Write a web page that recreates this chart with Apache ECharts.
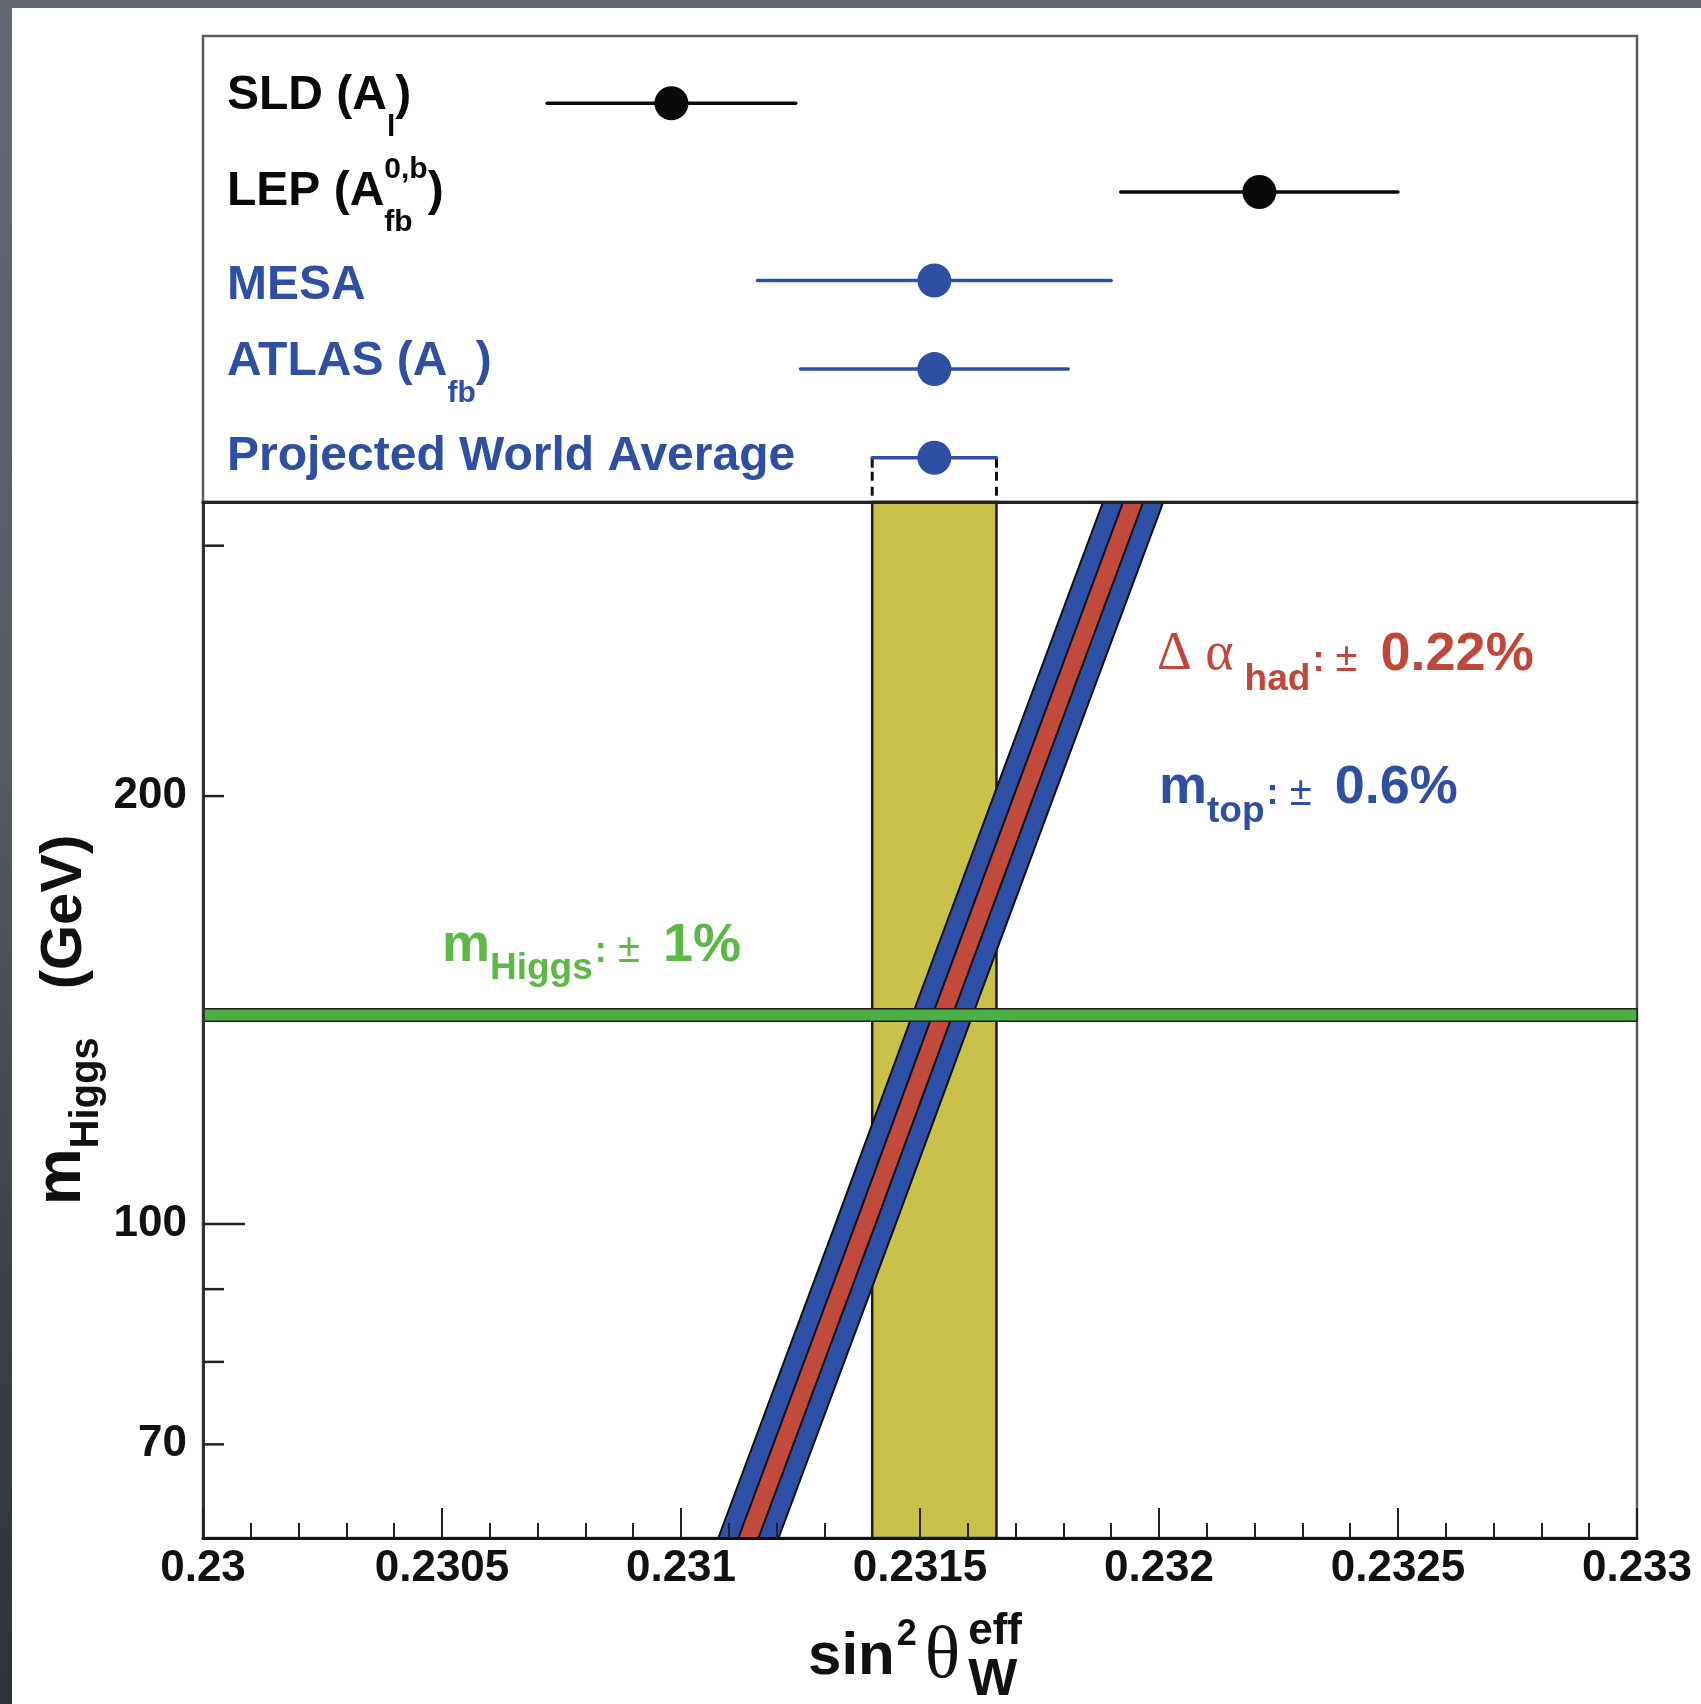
<!DOCTYPE html>
<html>
<head>
<meta charset="utf-8">
<script src="https://cdn.jsdelivr.net/npm/echarts@6/dist/echarts.min.js"></script>
<style>
  html, body { margin: 0; padding: 0; }
  body {
    width: 1701px; height: 1704px; position: relative; overflow: hidden;
    background: linear-gradient(180deg, #636772 0%, #555962 45%, #3a3d45 80%, #2e3138 100%);
  }
  #sheet { position: absolute; left: 12px; top: 8px; right: 0; bottom: 0; background: #ffffff; }
  #chart { position: absolute; left: 0; top: 0; width: 1701px; height: 1704px; }
</style>
</head>
<body>
<div id="sheet"></div>
<div id="chart"></div>
<script>
// ---- measurements of sin^2(theta_eff) (upper panel, one row each) ----
const expLabels = [
  '{m|SLD (A}{sub|l}{m|)}',
  '{m|LEP (A}{subz|fb}{sup|0,b}{m|)}',
  '{m|MESA}',
  '{m|ATLAS (A}{sub|fb}{m|)}',
  '{m|Projected World Average}'
];
const expCenter = [0.23098, 0.23221, 0.23153, 0.23153, 0.23153];
const expLow    = [0.23072, 0.23192, 0.23116, 0.23125, 0.23140];
const expHigh   = [0.23124, 0.23250, 0.23190, 0.23181, 0.23166];

// projected world-average band (lower panel)
const worldAvgBand = [0.23140, 0.23166];

// SM prediction of sin^2(theta_eff) versus Higgs mass (band centre)
const bandMass   = [60.15, 100, 140, 200, 322];
const bandCenter = [0.231141, 0.231386, 0.231546, 0.231717, 0.231946];
const mtopHalfWidth  = 0.000063;   // outer (blue) band, m_top uncertainty
const alphaHalfWidth = 0.000021;   // inner (red) band, Delta alpha_had uncertainty

// Higgs mass line: m_H with +-1 %
const higgsMass = 140.3;
const higgsRelErr = 0.01;

// axis ticks
const xTickLabels = ['0.23', '0.2305', '0.231', '0.2315', '0.232', '0.2325', '0.233'];
const yTickValues = [70, 80, 90, 100, 200, 300];
const yTickLabels = ['70', '', '', '100', '200', ''];
const yDecadeTicks = [100];

// ---- styling ----
const SANS = '"Liberation Sans", Arial, Helvetica, sans-serif';
const SERIF = '"Liberation Serif", "DejaVu Serif", serif';
const INK = '#0a0a0a';
const BLUE = '#2f4fa3';
const RED = '#c0483a';
const GREEN = '#5cb947';
const rowColors = [INK, INK, BLUE, BLUE, BLUE];
const rowLabelNudge = [-8, 0, 5, -7, -1];   // vertical fine-tuning of the row names (px)

const X_MIN = 0.23, X_MAX = 0.233;
const M_MIN = 60.15, M_MAX = 322;
const ROW_MIN = -0.76, ROW_MAX = 4.5;

function rowRich(color) {
  const base = { fontFamily: SANS, fontWeight: 'bold', color: color };
  return {
    m:    Object.assign({}, base, { fontSize: 48 }),
    sub:  Object.assign({}, base, { fontSize: 30, padding: [64, 0, 0, 0] }),
    subz: Object.assign({}, base, { fontSize: 30, width: 0, padding: [62, 0, 0, 0] }),
    sup:  Object.assign({}, base, { fontSize: 30, padding: [0, 0, 44, 0] })
  };
}

function noteRich(color, subPad) {
  return {
    g:   { fontFamily: SERIF, fontSize: 54, color: color, padding: [0, 11, 0, 0] },
    m:   { fontFamily: SANS, fontWeight: 'bold', fontSize: 54, color: color },
    sub: { fontFamily: SANS, fontWeight: 'bold', fontSize: 37, color: color, padding: [subPad, 0, 0, 0] },
    c:   { fontFamily: SANS, fontWeight: 'bold', fontSize: 36, color: color, padding: [12, 0, 0, 2] },
    pm:  { fontFamily: SANS, fontSize: 40, color: color, padding: [10, 12, 0, 0] },
    v:   { fontFamily: SANS, fontWeight: 'bold', fontSize: 54, color: color }
  };
}

function polygonItem(points, fill, stroke, width) {
  return { type: 'polygon', shape: { points: points }, style: { fill: fill, stroke: stroke, lineWidth: width } };
}

const chart = echarts.init(document.getElementById('chart'), null, { renderer: 'canvas', width: 1701, height: 1704 });

const option = {
  animation: false,
  grid: [
    { left: 203, right: 64, top: 36, height: 466, outerBoundsMode: 'none', containLabel: false,
      show: true, backgroundColor: 'transparent', borderColor: '#5c5c5c', borderWidth: 2.5 },
    { left: 203, right: 64, top: 502, height: 1036, outerBoundsMode: 'none', containLabel: false,
      show: true, backgroundColor: 'transparent', borderColor: '#5c5c5c', borderWidth: 2.5 }
  ],
  xAxis: [
    { gridIndex: 0, type: 'value', min: X_MIN, max: X_MAX, show: false },
    {
      gridIndex: 1, type: 'value', min: X_MIN, max: X_MAX, interval: 0.0005, z: 10,
      axisLine: { show: true, onZero: false, lineStyle: { color: '#111', width: 3 } },
      axisTick: { show: true, inside: true, length: 30, lineStyle: { color: '#222', width: 2 } },
      minorTick: { show: true, splitNumber: 5, length: 15, lineStyle: { color: '#222', width: 2 } },
      splitLine: { show: false }, minorSplitLine: { show: false },
      axisLabel: {
        show: true, margin: 9, fontSize: 44, fontWeight: 'bold', fontFamily: SANS, color: '#111',
        showMinLabel: true, showMaxLabel: true,
        formatter: function (v, i) { return xTickLabels[i]; }
      },
      name: '{s|sin}{sup|2}{th|θ}{w|W}{eff|eff}',
      nameLocation: 'middle', nameGap: 69, nameMoveOverlap: false,
      nameTextStyle: {
        rich: {
          s:   { align: 'left', fontFamily: SANS, fontWeight: 'bold', fontSize: 60, color: '#111' },
          sup: { align: 'left', fontFamily: SANS, fontWeight: 'bold', fontSize: 36, color: '#111', padding: [0, 8, 43, 2] },
          th:  { align: 'left', fontFamily: SERIF, fontSize: 74, color: '#111', padding: [2, 8, 0, 0] },
          w:   { align: 'left', fontFamily: SANS, fontWeight: 'bold', fontSize: 52, color: '#111', width: 0, padding: [48, 0, 0, 0] },
          eff: { align: 'left', fontFamily: SANS, fontWeight: 'bold', fontSize: 44, color: '#111', padding: [0, 10, 51, 0] }
        }
      }
    },
    {
      gridIndex: 1, type: 'value', min: X_MIN, max: X_MAX, position: 'top', z: 10,
      axisLine: { show: true, onZero: false, lineStyle: { color: '#222', width: 3 } },
      axisTick: { show: false }, axisLabel: { show: false }, splitLine: { show: false }
    }
  ],
  yAxis: [
    { gridIndex: 0, type: 'value', inverse: true, min: ROW_MIN, max: ROW_MAX, show: false },
    {
      gridIndex: 1, type: 'log', logBase: 10, min: M_MIN, max: M_MAX, z: 10,
      axisLine: { show: true, onZero: false, lineStyle: { color: '#333', width: 3 } },
      axisTick: { show: false }, axisLabel: { show: false },
      splitLine: { show: false }, minorTick: { show: false },
      name: '{m|m}{sub|Higgs}{g|(GeV)}',
      nameLocation: 'middle', nameRotate: 90, nameGap: 96, nameMoveOverlap: false,
      nameTextStyle: {
        rich: {
          m:   { fontFamily: SANS, fontWeight: 'bold', fontSize: 64, color: '#111' },
          sub: { fontFamily: SANS, fontWeight: 'bold', fontSize: 40, color: '#111', padding: [49, 0, 0, 0] },
          g:   { fontFamily: SANS, fontWeight: 'bold', fontSize: 58, color: '#111', padding: [4, 0, 0, 48] }
        }
      }
    }
  ],
  series: [
    // ---------- upper panel ----------
    {
      // dashed drop lines from the world-average error bar to the band below
      type: 'custom', xAxisIndex: 0, yAxisIndex: 0, z: 2, silent: true,
      data: [[expLow[4], 4], [expHigh[4], 4]],
      encode: { x: 0, y: 1 },
      renderItem: function (params, api) {
        const top = api.coord([api.value(0), api.value(1)]);
        const bottom = api.coord([api.value(0), ROW_MAX]);
        return {
          type: 'group', children: [
            { type: 'line', shape: { x1: top[0], y1: top[1], x2: top[0], y2: top[1] + 10 },
              style: { stroke: '#111', lineWidth: 3 } },
            { type: 'line', shape: { x1: top[0], y1: top[1] + 14, x2: bottom[0], y2: bottom[1] },
              style: { stroke: '#111', lineWidth: 3, lineDash: [9, 6] } }
          ]
        };
      }
    },
    {
      // horizontal error bars
      type: 'custom', xAxisIndex: 0, yAxisIndex: 0, z: 3, silent: true,
      data: expCenter.map(function (c, i) { return [expLow[i], expHigh[i], i]; }),
      encode: { x: [0, 1], y: 2 },
      renderItem: function (params, api) {
        const row = api.value(2);
        const a = api.coord([api.value(0), row]);
        const b = api.coord([api.value(1), row]);
        return { type: 'line', shape: { x1: a[0], y1: a[1], x2: b[0], y2: b[1] },
                 style: { stroke: rowColors[row], lineWidth: 3.5, lineCap: 'round' } };
      }
    },
    {
      // central values
      type: 'scatter', xAxisIndex: 0, yAxisIndex: 0, z: 4, silent: true,
      symbol: 'circle', symbolSize: 34, itemStyle: { opacity: 1 },
      data: expCenter.map(function (c, i) { return { value: [c, i], itemStyle: { color: rowColors[i], opacity: 1 } }; })
    },
    {
      // measurement names
      type: 'scatter', xAxisIndex: 0, yAxisIndex: 0, z: 5, silent: true, symbolSize: 0,
      itemStyle: { opacity: 1 },
      data: expLabels.map(function (t, i) {
        return { value: [X_MIN, i],
                 label: { formatter: t, rich: rowRich(rowColors[i]), offset: [0, rowLabelNudge[i]] } };
      }),
      label: { show: true, position: 'right', distance: 24, opacity: 1 }
    },

    // ---------- lower panel ----------
    {
      // world-average band
      type: 'custom', xAxisIndex: 1, yAxisIndex: 1, z: 2, silent: true,
      data: [[worldAvgBand[0], M_MIN, worldAvgBand[1], M_MAX]],
      encode: { x: [0, 2], y: [1, 3] },
      renderItem: function (params, api) {
        const lo = api.value(0), hi = api.value(2);
        const pts = [api.coord([lo, M_MIN]), api.coord([hi, M_MIN]), api.coord([hi, M_MAX]), api.coord([lo, M_MAX])];
        return polygonItem(pts, '#c9c14a', '#1a1a1a', 2.5);
      }
    },
    {
      // m_top band (outer, blue)
      type: 'custom', xAxisIndex: 1, yAxisIndex: 1, z: 3, silent: true,
      data: bandMass.map(function (m, k) { return [bandCenter[k], m]; }),
      encode: { x: 0, y: 1 },
      renderItem: function (params, api) {
        if (params.dataIndex !== 0) return null;
        const left = bandMass.map(function (m, k) { return api.coord([bandCenter[k] - mtopHalfWidth, m]); });
        const right = bandMass.map(function (m, k) { return api.coord([bandCenter[k] + mtopHalfWidth, m]); }).reverse();
        return polygonItem(left.concat(right), '#2e50a6', '#111', 2);
      }
    },
    {
      // Delta alpha_had band (inner, red)
      type: 'custom', xAxisIndex: 1, yAxisIndex: 1, z: 4, silent: true,
      data: bandMass.map(function (m, k) { return [bandCenter[k], m]; }),
      encode: { x: 0, y: 1 },
      renderItem: function (params, api) {
        if (params.dataIndex !== 0) return null;
        const left = bandMass.map(function (m, k) { return api.coord([bandCenter[k] - alphaHalfWidth, m]); });
        const right = bandMass.map(function (m, k) { return api.coord([bandCenter[k] + alphaHalfWidth, m]); }).reverse();
        return polygonItem(left.concat(right), '#c24a3c', '#111', 2);
      }
    },
    {
      // Higgs mass band
      type: 'custom', xAxisIndex: 1, yAxisIndex: 1, z: 5, silent: true,
      data: [[X_MIN, higgsMass * (1 - higgsRelErr), X_MAX, higgsMass * (1 + higgsRelErr)]],
      encode: { x: [0, 2], y: [1, 3] },
      renderItem: function (params, api) {
        const x0 = api.value(0), y0 = api.value(1), x1 = api.value(2), y1 = api.value(3);
        const pts = [api.coord([x0, y0]), api.coord([x1, y0]), api.coord([x1, y1]), api.coord([x0, y1])];
        return polygonItem(pts, '#4caf45', '#1e1e1e', 1.5);
      }
    },
    {
      // y-axis ticks and labels (log scale)
      type: 'custom', xAxisIndex: 1, yAxisIndex: 1, z: 12, silent: true,
      data: yTickValues.map(function (v) { return [X_MIN, v]; }),
      encode: { x: 0, y: 1 },
      renderItem: function (params, api) {
        const v = api.value(1);
        const p = api.coord([X_MIN, v]);
        const len = yDecadeTicks.indexOf(v) >= 0 ? 42 : 21;
        const children = [{ type: 'line', shape: { x1: p[0], y1: p[1], x2: p[0] + len, y2: p[1] },
                             style: { stroke: '#222', lineWidth: 2.5 } }];
        const lab = yTickLabels[params.dataIndex];
        if (lab) {
          children.push({ type: 'text', x: p[0] - 16, y: p[1],
            style: { text: lab, align: 'right', verticalAlign: 'middle', fontSize: 44, fontWeight: 'bold',
                     fontFamily: SANS, fill: '#111' } });
        }
        return { type: 'group', children: children };
      }
    },
    {
      // band annotations
      type: 'scatter', xAxisIndex: 1, yAxisIndex: 1, z: 8, silent: true, symbolSize: 0,
      itemStyle: { opacity: 1 },
      data: [
        { value: [0.231996, 253.5], label: { formatter: '{g|Δ α}{sub|had}{c|:}{pm| ± }{v|0.22%}', rich: noteRich(RED, 50) } },
        { value: [0.232, 204.1], label: { formatter: '{m|m}{sub|top}{c|:}{pm| ± }{v|0.6%}', rich: noteRich(BLUE, 46) } },
        { value: [0.2305, 158.1], label: { formatter: '{m|m}{sub|Higgs}{c|:}{pm| ± }{v|1%}', rich: noteRich(GREEN, 46) } }
      ],
      label: { show: true, position: 'right', distance: 0, offset: [0, 5], opacity: 1 }
    }
  ]
};

chart.setOption(option);
</script>
</body>
</html>
